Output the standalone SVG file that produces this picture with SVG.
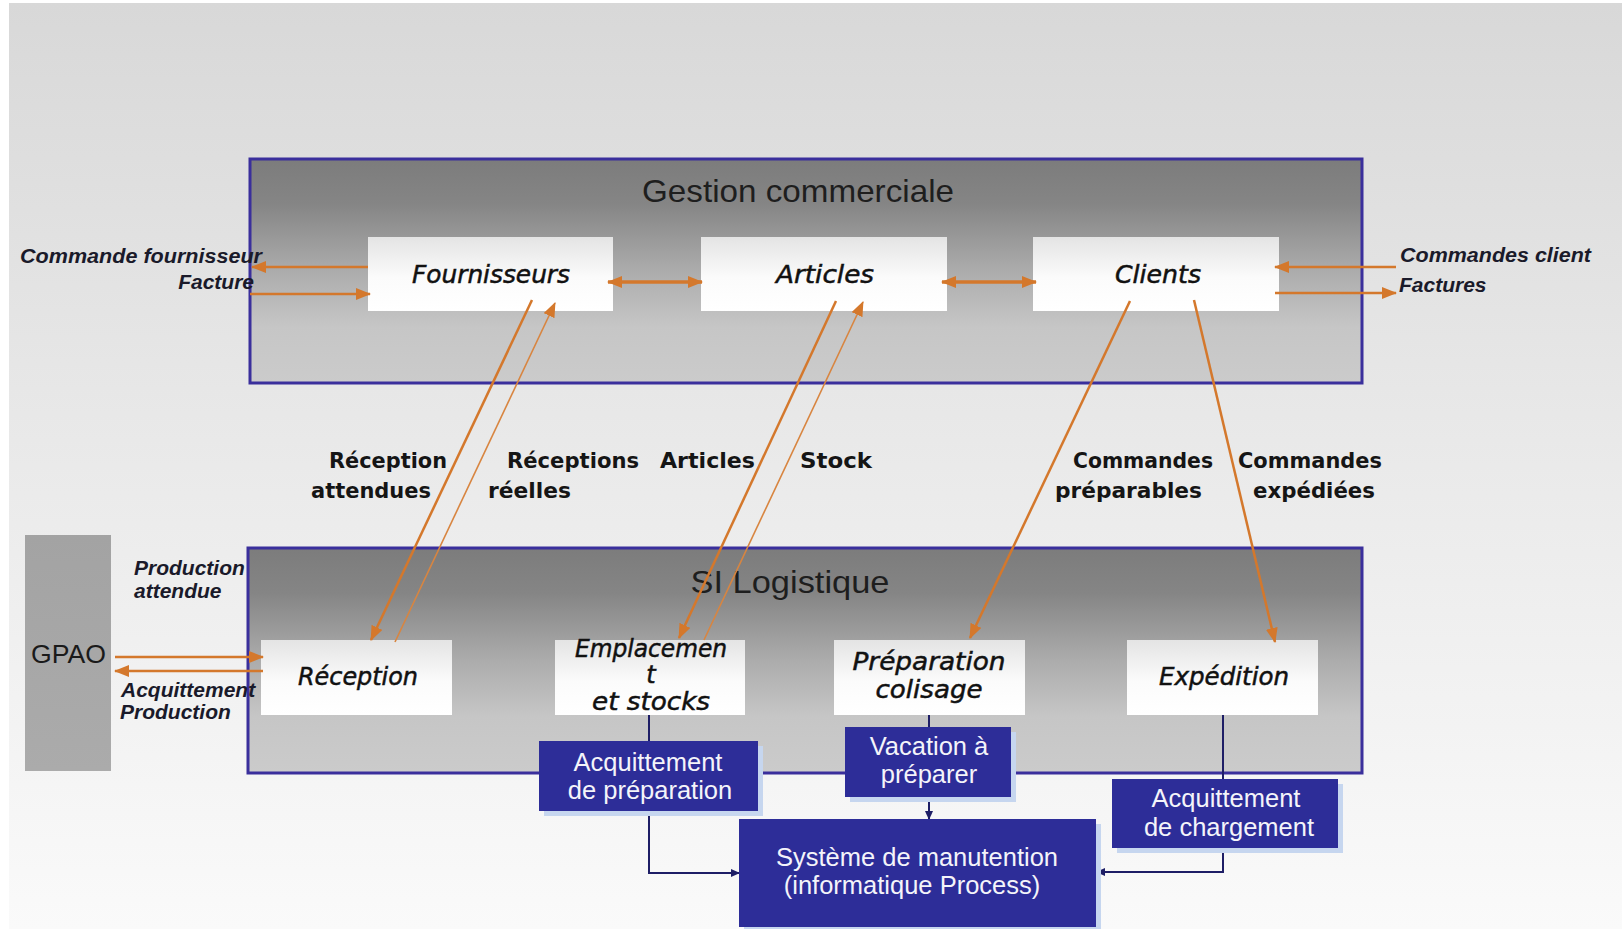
<svg xmlns="http://www.w3.org/2000/svg" width="1622" height="929" viewBox="0 0 1622 929">
  <style>
    .title { font-family: "Liberation Sans", Arial, sans-serif; font-size: 32px; fill: #1e1e1e; }
    .node { font-family: "DejaVu Sans", sans-serif; font-style: italic; font-size: 24px; fill: #111; stroke: #111; stroke-width: 0.5; }
    .flow { font-family: "DejaVu Sans", sans-serif; font-weight: bold; font-size: 22px; fill: #151515; }
    .side { font-family: "Liberation Sans", Arial, sans-serif; font-style: italic; font-weight: bold; font-size: 21px; fill: #1a1a2a; }
    .navytxt { font-family: "Liberation Sans", Arial, sans-serif; font-size: 25.5px; fill: #f4f4fa; }
    .gpao { font-family: "Liberation Sans", Arial, sans-serif; font-size: 26px; fill: #1a1a1a; }
    .container { fill: url(#boxGrad); stroke: #3a2f9c; stroke-width: 3; }
    .inner { fill: url(#nodeGrad); }
    .navy { fill: #2d2d98; }
    .shadow { fill: #c6d6ef; }
    .orange { stroke: #d4782c; stroke-width: 2.5; fill: none; }
    .orange-bold { stroke: #d4782c; stroke-width: 3.5; fill: none; }
    .orange-thin { stroke: #d88540; stroke-width: 1.6; fill: none; }
    .wire { stroke: #1e1e66; stroke-width: 2; fill: none; }
  </style>
  <defs>
    <linearGradient id="bgGrad" x1="0" y1="0" x2="0" y2="1">
      <stop offset="0" stop-color="#d8d8d8"/>
      <stop offset="0.5" stop-color="#eaeaea"/>
      <stop offset="1" stop-color="#fafafa"/>
    </linearGradient>
    <linearGradient id="boxGrad" x1="0" y1="0" x2="0" y2="1">
      <stop offset="0" stop-color="#7c7c7c"/>
      <stop offset="0.2" stop-color="#858585"/>
      <stop offset="0.5" stop-color="#acacac"/>
      <stop offset="0.75" stop-color="#c6c6c6"/>
      <stop offset="1" stop-color="#cbcbcb"/>
    </linearGradient>
    <linearGradient id="nodeGrad" x1="0" y1="0" x2="0" y2="1">
      <stop offset="0" stop-color="#e4e4e4"/>
      <stop offset="0.55" stop-color="#fbfbfb"/>
      <stop offset="1" stop-color="#ffffff"/>
    </linearGradient>
    <linearGradient id="gpaoGrad" x1="0" y1="0" x2="0" y2="1">
      <stop offset="0" stop-color="#a3a3a3"/>
      <stop offset="1" stop-color="#ababab"/>
    </linearGradient>
    <marker id="arrOrange" markerUnits="userSpaceOnUse" markerWidth="15" markerHeight="12" refX="14" refY="6" orient="auto-start-reverse">
      <path d="M0,0 L15,6 L0,12 z" fill="#d4782c"/>
    </marker>
    <marker id="arrNavy" markerUnits="userSpaceOnUse" markerWidth="9" markerHeight="8" refX="8" refY="4" orient="auto">
      <path d="M0,0 L9,4 L0,8 z" fill="#1e1e66"/>
    </marker>
  </defs>

  <!-- slide background -->
  <rect x="0" y="0" width="1622" height="929" fill="#ffffff"/>
  <rect x="9" y="3" width="1613" height="926" fill="url(#bgGrad)"/>

  <!-- Gestion commerciale container -->
  <g id="gestion-commerciale">
    <rect class="container" x="250" y="159" width="1112" height="224"/>
    <text class="title" x="798" y="202" text-anchor="middle" textLength="312" lengthAdjust="spacingAndGlyphs">Gestion commerciale</text>
  </g>

  <!-- SI Logistique container -->
  <g id="si-logistique">
    <rect class="container" x="248" y="548" width="1114" height="225"/>
    <text class="title" x="790" y="593" text-anchor="middle" textLength="199" lengthAdjust="spacingAndGlyphs">SI Logistique</text>
  </g>

  <g id="fournisseurs">
    <rect class="inner" x="368" y="237" width="245" height="74"/>
    <text class="node" x="491" y="283" text-anchor="middle" textLength="158" lengthAdjust="spacingAndGlyphs">Fournisseurs</text>
  </g>
  <g id="articles">
    <rect class="inner" x="701" y="237" width="246" height="74"/>
    <text class="node" x="825" y="283" text-anchor="middle" textLength="98" lengthAdjust="spacingAndGlyphs">Articles</text>
  </g>
  <g id="clients">
    <rect class="inner" x="1033" y="237" width="246" height="74"/>
    <text class="node" x="1158" y="283" text-anchor="middle" textLength="86" lengthAdjust="spacingAndGlyphs">Clients</text>
  </g>

  <g id="reception">
    <rect class="inner" x="261" y="640" width="191" height="75"/>
    <text class="node" x="358" y="685" text-anchor="middle" textLength="120" lengthAdjust="spacingAndGlyphs">Réception</text>
  </g>
  <g id="emplacement-stocks">
    <rect class="inner" x="555" y="640" width="190" height="75"/>
    <text class="node" x="651" y="657" text-anchor="middle" textLength="152" lengthAdjust="spacingAndGlyphs">Emplacemen</text>
    <text class="node" x="651" y="683" text-anchor="middle">t</text>
    <text class="node" x="651" y="710" text-anchor="middle" textLength="118" lengthAdjust="spacingAndGlyphs">et stocks</text>
  </g>
  <g id="preparation-colisage">
    <rect class="inner" x="834" y="640" width="191" height="75"/>
    <text class="node" x="929" y="670" text-anchor="middle" textLength="153" lengthAdjust="spacingAndGlyphs">Préparation</text>
    <text class="node" x="929" y="698" text-anchor="middle" textLength="107" lengthAdjust="spacingAndGlyphs">colisage</text>
  </g>
  <g id="expedition">
    <rect class="inner" x="1127" y="640" width="191" height="75"/>
    <text class="node" x="1224" y="685" text-anchor="middle" textLength="130" lengthAdjust="spacingAndGlyphs">Expédition</text>
  </g>

  <g id="gpao">
    <rect x="25" y="535" width="86" height="236" fill="url(#gpaoGrad)"/>
    <text class="gpao" x="31" y="663" textLength="75" lengthAdjust="spacingAndGlyphs">GPAO</text>
  </g>

  <!-- orange information flows -->
  <g id="flows">
    <line class="orange" x1="368" y1="267" x2="252" y2="267" marker-end="url(#arrOrange)"/>
    <line class="orange" x1="250" y1="294" x2="370" y2="294" marker-end="url(#arrOrange)"/>
    <line class="orange" x1="1396" y1="267" x2="1275" y2="267" marker-end="url(#arrOrange)"/>
    <line class="orange" x1="1275" y1="293" x2="1396" y2="293" marker-end="url(#arrOrange)"/>
    <line class="orange-bold" x1="608" y1="282" x2="702" y2="282" marker-start="url(#arrOrange)" marker-end="url(#arrOrange)"/>
    <line class="orange-bold" x1="942" y1="282" x2="1036" y2="282" marker-start="url(#arrOrange)" marker-end="url(#arrOrange)"/>
    <line class="orange" x1="115" y1="657" x2="263" y2="657" marker-end="url(#arrOrange)"/>
    <line class="orange" x1="263" y1="671" x2="115" y2="671" marker-end="url(#arrOrange)"/>
    <line class="orange" x1="532" y1="300" x2="371" y2="640" marker-end="url(#arrOrange)"/>
    <line class="orange-thin" x1="395" y1="642" x2="555" y2="303" marker-end="url(#arrOrange)"/>
    <line class="orange" x1="836" y1="301" x2="679" y2="638" marker-end="url(#arrOrange)"/>
    <line class="orange-thin" x1="704" y1="640" x2="863" y2="302" marker-end="url(#arrOrange)"/>
    <line class="orange" x1="1130" y1="301" x2="970" y2="638" marker-end="url(#arrOrange)"/>
    <line class="orange" x1="1194" y1="300" x2="1275" y2="642" marker-end="url(#arrOrange)"/>

    <!-- navy links to the handling system -->
    <line class="wire" x1="649" y1="715" x2="649" y2="741"/>
    <path class="wire" d="M649,811 V873 H739" marker-end="url(#arrNavy)"/>
    <line class="wire" x1="929" y1="715" x2="929" y2="727"/>
    <line class="wire" x1="929" y1="797" x2="929" y2="819" marker-end="url(#arrNavy)"/>
    <line class="wire" x1="1223" y1="715" x2="1223" y2="779"/>
    <path class="wire" d="M1223,848 V872 H1097" marker-end="url(#arrNavy)"/>
  </g>

  <!-- flow labels -->
  <g id="flow-labels">
    <text class="side" x="20" y="263" textLength="242" lengthAdjust="spacingAndGlyphs">Commande fournisseur</text>
    <text class="side" x="254" y="289" text-anchor="end">Facture</text>
    <text class="side" x="1400" y="262" textLength="191" lengthAdjust="spacingAndGlyphs">Commandes client</text>
    <text class="side" x="1399" y="292">Factures</text>
    <text class="side" x="134" y="575">Production</text>
    <text class="side" x="134" y="598">attendue</text>
    <text class="side" x="121" y="697">Acquittement</text>
    <text class="side" x="120" y="719">Production</text>

    <text class="flow" x="329" y="468" textLength="118" lengthAdjust="spacingAndGlyphs">Réception</text>
    <text class="flow" x="311" y="498" textLength="120" lengthAdjust="spacingAndGlyphs">attendues</text>
    <text class="flow" x="507" y="468" textLength="132" lengthAdjust="spacingAndGlyphs">Réceptions</text>
    <text class="flow" x="488" y="498" textLength="83" lengthAdjust="spacingAndGlyphs">réelles</text>
    <text class="flow" x="660" y="468" textLength="95" lengthAdjust="spacingAndGlyphs">Articles</text>
    <text class="flow" x="800" y="468" textLength="72" lengthAdjust="spacingAndGlyphs">Stock</text>
    <text class="flow" x="1073" y="468" textLength="140" lengthAdjust="spacingAndGlyphs">Commandes</text>
    <text class="flow" x="1055" y="498" textLength="147" lengthAdjust="spacingAndGlyphs">préparables</text>
    <text class="flow" x="1238" y="468" textLength="144" lengthAdjust="spacingAndGlyphs">Commandes</text>
    <text class="flow" x="1253" y="498" textLength="122" lengthAdjust="spacingAndGlyphs">expédiées</text>
  </g>

  <g id="acquittement-preparation">
    <rect class="shadow" x="544" y="746" width="219" height="70"/>
    <rect class="navy" x="539" y="741" width="219" height="70"/>
    <text class="navytxt" x="648" y="771" text-anchor="middle">Acquittement</text>
    <text class="navytxt" x="650" y="799" text-anchor="middle">de préparation</text>
  </g>
  <g id="vacation-a-preparer">
    <rect class="shadow" x="850" y="732" width="166" height="70"/>
    <rect class="navy" x="845" y="727" width="166" height="70"/>
    <text class="navytxt" x="929" y="755" text-anchor="middle">Vacation à</text>
    <text class="navytxt" x="929" y="783" text-anchor="middle">préparer</text>
  </g>
  <g id="acquittement-chargement">
    <rect class="shadow" x="1117" y="784" width="226" height="69"/>
    <rect class="navy" x="1112" y="779" width="226" height="69"/>
    <text class="navytxt" x="1226" y="807" text-anchor="middle">Acquittement</text>
    <text class="navytxt" x="1229" y="836" text-anchor="middle">de chargement</text>
  </g>
  <g id="systeme-manutention">
    <rect class="shadow" x="744" y="824" width="357" height="105"/>
    <rect class="navy" x="739" y="819" width="357" height="108"/>
    <text class="navytxt" x="917" y="866" text-anchor="middle">Système de manutention</text>
    <text class="navytxt" x="912" y="894" text-anchor="middle">(informatique Process)</text>
  </g>
</svg>
